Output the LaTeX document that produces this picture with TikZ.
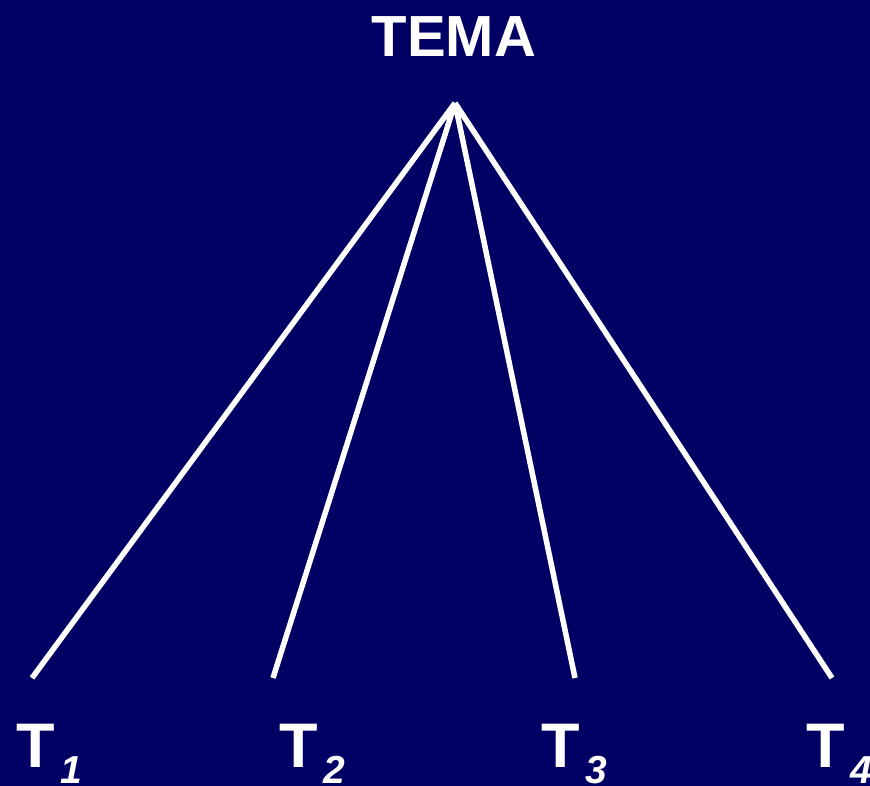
\documentclass[tikz,border=0pt]{standalone}
\usepackage{fontspec}
\setmainfont{Liberation Sans}
\definecolor{navy}{RGB}{0,0,100}
\newcommand{\tsub}[1]{T\hspace{6pt}\raisebox{-16pt}{\fontsize{39}{39}\selectfont\itshape #1}}
\begin{document}
\begin{tikzpicture}[x=1pt, y=-1pt, every node/.style={text=white, inner sep=0pt},
  branch/.style={white, line width=5.5pt},
  leaf/.style={anchor=base west, font=\fontsize{63}{63}\selectfont\bfseries}]
  \fill[navy] (0,0) rectangle (870,786);
  \useasboundingbox (0,0) rectangle (870,786);

  \coordinate (top) at (455,103);
  \coordinate (E1) at (32,678);
  \coordinate (E2) at (273,678);
  \coordinate (E3) at (575,678);
  \coordinate (E4) at (832,678);

  \draw[branch] (top)--(E1) (top)--(E2) (top)--(E3) (top)--(E4);

  \node[anchor=base, font=\fontsize{58}{58}\selectfont\bfseries] (tema) at (454,57) {TEMA};
  \node[leaf] (t1) at (16,767) {\tsub{1}};
  \node[leaf] (t2) at (279,767) {\tsub{2}};
  \node[leaf] (t3) at (541,767) {\tsub{3}};
  \node[leaf] (t4) at (806,767) {\tsub{4}};
\end{tikzpicture}
\end{document}
